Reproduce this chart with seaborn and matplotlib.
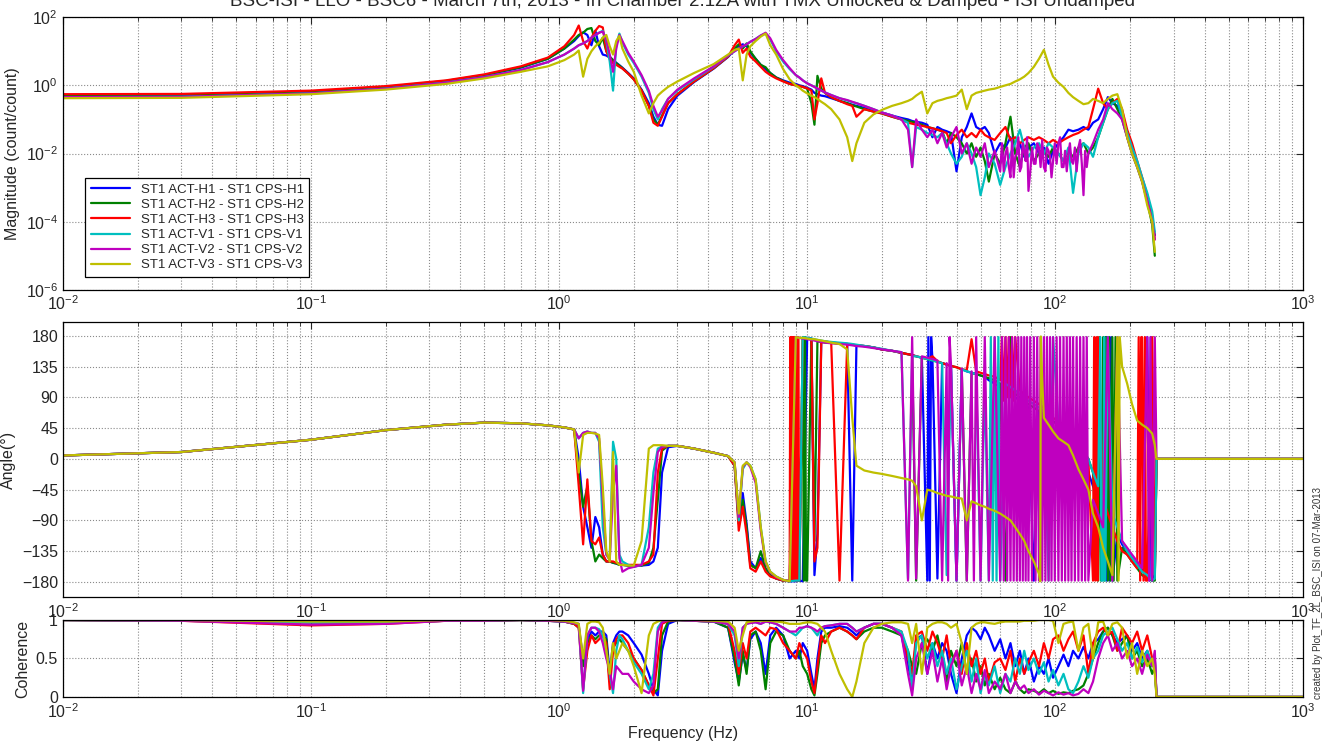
import matplotlib
matplotlib.use("Agg")
import numpy as np
import pandas as pd
import matplotlib.pyplot as plt
import seaborn as sns
from matplotlib.ticker import LogLocator, NullFormatter, NullLocator, FixedLocator

TITLE = "BSC-ISI - LLO - BSC6 - March 7th, 2013 - In Chamber 2.1ZA with TMX Unlocked & Damped - ISI Undamped"
CREDIT = "created by Plot_TF_2L_BSC_ISI on 07-Mar-2013"

LABELS = ["ST1 ACT-H1 - ST1 CPS-H1", "ST1 ACT-H2 - ST1 CPS-H2", "ST1 ACT-H3 - ST1 CPS-H3",
          "ST1 ACT-V1 - ST1 CPS-V1", "ST1 ACT-V2 - ST1 CPS-V2", "ST1 ACT-V3 - ST1 CPS-V3"]
COLORS = ["#0000ff", "#008000", "#ff0000", "#00bfbf", "#bf00bf", "#bfbf00"]

# frequency grids (Hz)
F_LOW = [0.01, 0.03, 0.1, 0.2, 0.35, 0.5, 0.7, 0.9, 1.05, 1.15, 1.2, 1.25, 1.3, 1.35, 1.4, 1.45,
         1.5, 1.55, 1.6, 1.65, 1.7, 1.75, 1.8, 1.9, 2.0, 2.15, 2.3, 2.4, 2.5, 2.6, 2.75, 3.0, 3.5,
         4.2, 4.8, 5.1, 5.3, 5.5, 5.7, 5.9, 6.2, 6.5, 6.8, 7.1, 7.5, 8.0, 8.5]
F_HIGH = [9.0, 9.3, 9.6, 10.0, 10.4, 10.7, 11.0, 11.4, 11.8, 12.5, 13.5, 14.5, 15.2, 15.8, 17, 18.5,
          20, 22, 24, 25.5, 26.5, 27.5, 29, 30.5, 32, 33.5, 35, 36.5, 38, 40, 42, 44, 46, 48, 50,
          52, 54, 57, 60, 63, 66, 69, 72, 75, 78, 82, 86, 90, 94, 98, 103, 108, 113, 118, 124, 130,
          136, 142, 149, 156, 163, 170, 178, 186, 195, 204, 214, 224, 235, 246, 252]
F_TAIL = [256, 1000]
TAIL_PHASE = [0, 0]
TAIL_COH = [0, 0]

# magnitude (count/count)
H1_MAG = [0.5, 0.51, 0.64, 0.88, 1.3, 1.95, 3.3, 6, 12, 20, 28, 36, 30, 15, 40, 14, 8, 7.5, 6.5, 5.5,
          4.6, 3.9, 3.3, 2.3, 1.6, 0.75, 0.3, 0.12, 0.07, 0.065, 0.2, 0.5, 1.25, 3.1, 6.8, 11, 14, 16,
          14, 9, 6, 4, 3, 2.3, 1.7, 1.4, 1.2,
          1.1, 1.0, 0.95, 0.85, 0.75, 0.6, 0.55, 0.5, 0.48, 0.42, 0.35, 0.3, 0.27, 0.25, 0.22, 0.19,
          0.16, 0.13, 0.11, 0.1, 0.09, 0.085, 0.08, 0.07, 0.03, 0.06, 0.05, 0.045, 0.04, 0.003, 0.03,
          0.06, 0.15, 0.06, 0.05, 0.06, 0.04, 0.01, 0.02, 0.015, 0.03, 0.01, 0.02, 0.008, 0.015, 0.02,
          0.01, 0.015, 0.005, 0.012, 0.02, 0.03, 0.05, 0.045, 0.05, 0.06, 0.05, 0.08, 0.1, 0.2, 0.45,
          0.3, 0.25, 0.15, 0.04, 0.015, 0.005, 0.0018, 5e-4, 1.2e-4, 4e-5]
H2_MAG = [0.52, 0.53, 0.66, 0.9, 1.35, 2.0, 3.4, 6, 12, 22, 30, 35, 45, 48, 20, 15, 25, 10, 7, 5.5,
          4.5, 3.8, 3.2, 2.2, 1.5, 0.7, 0.25, 0.1, 0.07, 0.13, 0.3, 0.55, 1.3, 3.2, 7, 12, 16, 12, 17,
          10, 6, 4, 3.4, 2.3, 1.7, 1.35, 1.1,
          1.0, 0.95, 0.9, 0.8, 0.3, 0.07, 1.9, 0.8, 0.6, 0.45, 0.35, 0.3, 0.26, 0.24, 0.2, 0.17, 0.15,
          0.12, 0.1, 0.09, 0.085, 0.08, 0.07, 0.06, 0.055, 0.05, 0.045, 0.02, 0.04, 0.03, 0.02, 0.01,
          0.02, 0.008, 0.015, 0.006, 0.0015, 0.01, 0.005, 0.02, 0.12, 0.01, 0.004, 0.015, 0.02, 0.006,
          0.01, 0.012, 0.008, 0.015, 0.01, 0.006, 0.012, 0.008, 0.015, 0.02, 0.01, 0.015, 0.03, 0.08,
          0.2, 0.4, 0.2, 0.1, 0.03, 0.01, 0.004, 0.0015, 4e-4, 8e-5, 1e-5]
H3_MAG = [0.55, 0.56, 0.7, 0.95, 1.4, 2.1, 3.6, 6.5, 14, 30, 57, 20, 12, 25, 40, 55, 50, 10, 6, 4.5,
          4, 3.5, 3.1, 2.2, 1.5, 0.7, 0.25, 0.08, 0.065, 0.12, 0.3, 0.55, 1.3, 3.2, 7, 15, 22, 9, 12,
          7, 5, 3.5, 2.5, 2.0, 1.6, 1.3, 1.1,
          1.0, 0.95, 0.9, 0.82, 0.7, 0.1, 0.3, 1.6, 0.6, 0.45, 0.35, 0.28, 0.25, 0.12, 0.2, 0.17, 0.15,
          0.12, 0.1, 0.08, 0.075, 0.07, 0.065, 0.06, 0.055, 0.05, 0.045, 0.04, 0.02, 0.035, 0.05, 0.03,
          0.04, 0.03, 0.05, 0.035, 0.03, 0.025, 0.04, 0.06, 0.025, 0.03, 0.02, 0.025, 0.03, 0.025,
          0.03, 0.025, 0.02, 0.025, 0.02, 0.025, 0.03, 0.035, 0.04, 0.05, 0.06, 0.2, 0.8, 0.3, 0.2,
          0.3, 0.4, 0.2, 0.05, 0.02, 0.006, 0.002, 6e-4, 1.5e-4, 3e-5]
V1_MAG = [0.45, 0.46, 0.58, 0.8, 1.2, 1.75, 2.8, 4.8, 8, 12, 15, 17, 20, 25, 30, 35, 40, 20, 5, 0.7,
          15, 33, 18, 8, 4.5, 1.8, 0.6, 0.2, 0.1, 0.2, 0.4, 0.7, 1.5, 3.5, 7.5, 10, 12, 14, 16, 19, 23,
          29, 33, 22, 10, 5, 3,
          2.0, 1.7, 1.4, 1.15, 1.0, 0.9, 0.8, 0.7, 0.62, 0.52, 0.42, 0.36, 0.32, 0.3, 0.25, 0.2, 0.16,
          0.13, 0.1, 0.08, 0.004, 0.06, 0.05, 0.04, 0.035, 0.03, 0.04, 0.02, 0.01, 0.005, 0.008, 0.02,
          0.01, 0.004, 0.0006, 0.002, 0.01, 0.005, 0.0012, 0.004, 0.01, 0.02, 0.05, 0.015, 0.008,
          0.015, 0.02, 0.01, 0.02, 0.015, 0.01, 0.006, 0.015, 0.0007, 0.01, 0.02, 0.015, 0.008, 0.03,
          0.08, 0.2, 0.3, 0.35, 0.12, 0.04, 0.015, 0.006, 0.002, 7e-4, 2e-4, 5e-5]
V2_MAG = [0.45, 0.46, 0.58, 0.8, 1.2, 1.75, 2.8, 4.8, 8, 12, 15, 17, 20, 25, 30, 35, 38, 22, 8, 2.5,
          12, 30, 20, 9, 5, 2, 0.7, 0.25, 0.12, 0.18, 0.4, 0.75, 1.6, 3.6, 7.5, 10, 12, 14, 16, 19, 23,
          29, 35, 24, 11, 5.5, 3.2,
          2.0, 1.7, 1.4, 1.15, 1.0, 0.9, 0.8, 0.7, 0.62, 0.52, 0.42, 0.37, 0.33, 0.3, 0.25, 0.2, 0.16,
          0.13, 0.1, 0.05, 0.004, 0.1, 0.05, 0.03, 0.05, 0.02, 0.04, 0.015, 0.03, 0.06, 0.01, 0.02,
          0.005, 0.015, 0.008, 0.02, 0.004, 0.012, 0.003, 0.01, 0.002, 0.008, 0.003, 0.012, 0.0008,
          0.005, 0.015, 0.004, 0.012, 0.006, 0.02, 0.004, 0.01, 0.005, 0.015, 0.0006, 0.01, 0.02,
          0.05, 0.1, 0.3, 0.2, 0.15, 0.1, 0.03, 0.01, 0.004, 0.0015, 4e-4, 1e-4, 3e-5]
V3_MAG = [0.42, 0.43, 0.55, 0.75, 1.1, 1.6, 2.5, 3.6, 5.5, 8, 10.5, 1.8, 6, 10, 14, 18, 25, 30, 14, 8,
          20, 28, 12, 5, 2.5, 0.5, 0.15, 0.3, 0.5, 0.65, 0.9, 1.3, 2.3, 4.2, 8, 11, 12, 1.4, 8, 14, 20,
          27, 33, 15, 8, 3, 1.5,
          1.0, 0.85, 0.7, 0.58, 0.5, 0.45, 0.4, 0.33, 0.28, 0.2, 0.1, 0.03, 0.006, 0.02, 0.08, 0.14,
          0.19, 0.25, 0.3, 0.35, 0.4, 0.5, 0.65, 0.15, 0.3, 0.35, 0.38, 0.42, 0.45, 0.5, 0.75, 0.2,
          0.5, 0.6, 0.65, 0.7, 0.75, 0.8, 0.9, 1.0, 1.1, 1.3, 1.5, 1.8, 2.3, 3.5, 6.0, 11.0, 4.0, 1.8,
          1.2, 0.9, 0.6, 0.45, 0.35, 0.28, 0.3, 0.4, 0.35, 0.3, 0.4, 0.5, 0.55, 0.2, 0.03, 0.01,
          0.004, 0.0015, 3e-4, 1e-4, 1.3e-5]

# phase (deg)
H1_PH = [5, 10, 28, 42, 50, 53, 52, 49, 46, 43,
         0, -70, -100, -130, -85, -100, -140, -150, -150, -152, -153, -155, -155, -156, -156, -156,
         -155, -150, -130, -20, 17, 19, 15, 9, 4, -8, -90, -50, -95, -150, -160, -145, -162, -170,
         -175, -178, -179,
         -179, -178, -179, 177, 176, -170, -110, 172, 171, 170, 169, 168, -178, 166, 165, 163, 160,
         158, 155, 153, 152, 150, 148, -178, 145, -175, 140, 138, 136, -178, 131, 128, 126, 124, 122,
         120, 115, 110, 105, 100, 95, 90, 85, 80, 75, -178, 70, 65, 60, 55, 50, 40, 30, 20, 10, 0,
         -20, -40, -60, -80, 178, -178, -110, -125, -135, -145, -155, -165, 178, -178, -170]
H2_PH = [5, 10, 28, 42, 50, 53, 52, 49, 46, 43,
         -20, -70, -40, -120, -150, -140, -145, -150, -150, -152, -153, -155, -155, -156, -156, -156,
         -152, -130, -60, 12, 19, 19, 15, 9, 4, -10, -95, -60, -100, -155, -160, -135, -160, -170,
         -175, -178, -179,
         178, -178, 178, -178, 175, -120, 172, 171, 170, 170, 169, 168, 167, 166, 165, 163, 160, 158,
         155, 153, 152, -178, 148, 146, 144, 142, 140, 138, 136, 134, 131, -178, 126, 124, 122, 120,
         118, 115, 110, -178, 178, 95, 90, 85, 80, 75, 70, 65, 60, 55, 50, 45, 40, 30, 20, 10, 0,
         -20, -178, 178, -178, 178, -178, -130, -140, -150, -160, -170, -175, -178, -178]
H3_PH = [5, 10, 28, 42, 50, 53, 52, 49, 46, 43,
         -40, -125, -30, -120, -125, -115, -140, -150, -150, -150, -152, -153, -155, -155, -155,
         -155, -150, -140, -20, 15, 19, 19, 15, 9, 4, -10, -105, -70, -110, -160, -165, -150, -165,
         -172, -175, -178, -178,
         178, -178, 177, 176, 175, -150, -130, 170, 172, 170, -178, 168, 167, 166, 165, 163, 160, 158,
         155, 153, 152, 150, 148, 146, 150, 143, 140, 138, 136, 134, 131, 130, 175, 128, 126, 124,
         122, 120, 115, 178, 90, 178, 100, 95, 90, 85, 80, 75, 70, 60, 55, 50, 40, 30, 20, 10, 0,
         -178, 178, -60, -80, -100, -120, -135, -140, -150, -160, 178, -178, 178, -170]
V1_PH = [5, 10, 28, 42, 50, 53, 52, 49, 46, 43,
         30, 38, 40, 38, 38, 25, -100, -140, -145, 25, 0, -140, -150, -155, -158, -155, -100, -20,
         15, 18, 19, 19, 15, 9, 4, -5, -90, -15, -5, -10, -30, -100, -150, -165, -172, -177, -179,
         -178, -178, 178, 177, 176, 175, 174, 173, 172, 171, 170, 169, 168, 167, 165, 163, 161, 158,
         156, -175, 150, 150, 148, 146, 144, 142, 140, -170, 136, -178, 131, 128, 126, 124, -178, 120,
         -178, 178, -178, 110, 105, 100, 95, 90, 85, 80, 75, 70, -178, 178, 50, 45, 40, 30, 20, 10, 0,
         -20, -40, -178, 178, -80, -100, -120, -135, -145, -155, -165, -170, -178, -175]
V2_PH = [5, 10, 28, 42, 50, 53, 52, 49, 46, 43,
         30, 38, 40, 38, 38, 30, -60, -140, -148, -50, -10, -145, -165, -160, -158, -155, -130, -50,
         10, 18, 19, 19, 15, 9, 4, -5, -85, -12, -5, -12, -35, -105, -152, -166, -173, -177, -179,
         178, 177, 176, 175, 174, 173, 172, 171, 170, 169, 168, 167, 166, 165, 164, 162, 160, 158,
         156, -178, 178, -175, 150, 148, 146, 144, -178, 140, 138, -178, 132, -178, 128, 178, -178,
         178, -178, 178, -178, 178, -178, 178, -178, 178, -178, 178, -178, 178, -178, 178, -178, 178,
         -178, 178, -178, 178, -178, -60, -80, -100, 178, -178, 178, -120, -130, -140, -150, -160,
         178, -178, 178]
V3_PH = [5, 10, 28, 42, 50, 53, 52, 49, 46, 43,
         -20, 35, 38, 38, 37, 35, -40, -135, -150, 10, -150, -155, -155, -156, -156, -120, 15, 20,
         20, 20, 19, 19, 15, 9, 4, -5, -80, -10, -5, -10, -30, -100, -150, -165, -172, -177, -179,
         178, 177, 177, 176, 175, 175, 174, 173, 172, 170, 168, 160, 60, -10, -17, -20, -22, -25, -28,
         -30, -32, -40, -90, -45, -47, -50, -52, -54, -55, -57, -58, -90, -62, -65, -68, -70, -73,
         -76, -80, -85, -90, -100, -110, -120, -135, -150, -168, 60, 50, 40, 30, 25, 20, 5, -15, -30,
         -45, -80, -100, -130, -150, -170, 178, 135, 110, 80, 56, 50, 45, 37, 20]

# extra phase-wrap readings in the busy bands (Hz, deg)
H1_WRAP_F = [30.8, 31.2, 31.6, 160, 161.5, 166, 168, 240, 243]
H1_WRAP = [178, -178, 178, 178, -178, -178, 178, -178, 178]
H2_WRAP_F = [9.7, 9.8, 9.9, 151, 153, 158, 160, 165, 167, 172, 175]
H2_WRAP = [-178, 178, -178, 178, -178, -178, 178, 178, -178, -178, 178]
H3_WRAP_F = [8.55, 8.6, 8.65, 8.7, 8.75, 8.8, 8.85, 8.9, 9.05, 9.1, 9.15, 9.2, 61, 62, 64, 65, 67,
             68, 143.5, 145, 146.5, 148, 217, 220, 222, 227, 230, 232]
H3_WRAP = [178, -178, 178, -178, 178, -178, 178, -178, -178, 178, -178, 178, 178, 85, 90, 178, 178,
           85, 178, -178, 178, -178, 178, -178, 178, -178, 178, -178]
V1_WRAP_F = [55, 56, 58, 59, 152, 153.5, 157.5, 159]
V1_WRAP = [178, -178, -178, 178, 178, -178, 178, -178]
V2_WRAP_F = [37, 37.5, 47, 239, 242,
             61, 62, 64, 65, 67, 68, 70, 71, 73, 74, 76, 77, 79.3, 80.6, 83.3, 84.6, 87.3, 88.6, 91.3,
             92.6, 95.3, 96.6, 99.6, 101.3, 104.6, 106.3, 109.6, 111.3, 114.6, 116.3, 120, 122, 126,
             128, 132, 134]
V2_WRAP = [-178, 178, -178, -178, 178,
           178, -178, -178, 178, 178, -178, -178, 178, 178, -178, -178, 178, 178, -178, -178, 178,
           178, -178, -178, 178, 178, -178, -178, 178, 178, -178, -178, 178, 178, -178, -178, 178,
           178, -178, -178, 178]
V3_WRAP_F = [87, 87.5, 88.5, 180, 182]
V3_WRAP = [-179, 179, 120, -178, 178]

# extra magnitude readings where V2 is very ragged (Hz, count/count)
V2_RAGGED_F = [61, 62, 64, 65, 67, 68, 70, 71, 73, 74, 76, 77, 79.3, 80.6, 83.3, 84.6, 87.3, 88.6,
               91.3, 92.6, 95.3, 96.6, 99.6, 101.3, 104.6, 106.3, 109.6, 111.3, 114.6, 116.3, 120,
               122, 126, 128, 132, 134]
V2_RAGGED = [0.02, 0.003, 0.015, 0.004, 0.025, 0.002, 0.01, 0.03, 0.004, 0.02, 0.006, 0.03, 0.003,
             0.015, 0.005, 0.02, 0.004, 0.025, 0.003, 0.015, 0.008, 0.002, 0.02, 0.005, 0.03, 0.004,
             0.012, 0.003, 0.02, 0.006, 0.015, 0.003, 0.025, 0.005, 0.012, 0.004]

# coherence
H1_COH = [1.0, 0.99, 0.97, 0.97, 0.99, 0.99, 1.0, 0.99, 0.98, 0.95,
          0.92, 0.5, 0.75, 0.85, 0.8, 0.85, 0.85, 0.8, 0.3, 0.7, 0.8, 0.85, 0.85, 0.8, 0.7, 0.55,
          0.3, 0.1, 0.02, 0.6, 0.95, 1.0, 0.99, 0.98, 0.9, 0.45, 0.2, 0.55, 0.35, 0.75, 0.85, 0.7,
          0.3, 0.8, 0.9, 0.8, 0.5,
          0.6, 0.5, 0.7, 0.6, 0.3, 0.1, 0.5, 0.85, 0.9, 0.9, 0.92, 0.9, 0.85, 0.8, 0.9, 0.95, 0.95,
          0.9, 0.8, 0.4, 0.2, 0.75, 0.8, 0.3, 0.7, 0.5, 0.7, 0.6, 0.3, 0.05, 0.5, 0.8, 0.9, 0.85,
          0.75, 0.9, 0.8, 0.6, 0.75, 0.5, 0.7, 0.4, 0.6, 0.3, 0.5, 0.2, 0.4, 0.3, 0.5, 0.25, 0.4,
          0.55, 0.4, 0.6, 0.5, 0.65, 0.5, 0.7, 0.75, 0.85, 0.9, 0.8, 0.7, 0.75, 0.8, 0.6, 0.7, 0.5,
          0.6, 0.4, 0.5]
H2_COH = [1.0, 0.99, 0.97, 0.97, 0.99, 0.99, 1.0, 0.99, 0.98, 0.95,
          0.9, 0.4, 0.7, 0.8, 0.75, 0.8, 0.8, 0.75, 0.2, 0.65, 0.7, 0.75, 0.7, 0.6, 0.5, 0.35, 0.15,
          0.05, 0.1, 0.8, 0.98, 1.0, 0.99, 0.98, 0.9, 0.5, 0.15, 0.6, 0.3, 0.8, 0.85, 0.6, 0.1, 0.7,
          0.85, 0.8, 0.6,
          0.5, 0.6, 0.4, 0.3, 0.1, 0.02, 0.3, 0.7, 0.8, 0.85, 0.9, 0.85, 0.8, 0.75, 0.85, 0.9, 0.9,
          0.85, 0.8, 0.6, 0.4, 0.3, 0.7, 0.75, 0.6, 0.8, 0.5, 0.2, 0.6, 0.4, 0.7, 0.3, 0.5, 0.2, 0.4,
          0.15, 0.3, 0.1, 0.25, 0.1, 0.05, 0.2, 0.1, 0.05, 0.1, 0.08, 0.05, 0.1, 0.05, 0.08, 0.04,
          0.06, 0.05, 0.08, 0.1, 0.15, 0.3, 0.5, 0.7, 0.85, 0.9, 0.8, 0.6, 0.7, 0.8, 0.5, 0.6, 0.4,
          0.5, 0.3, 0.4]
H3_COH = [1.0, 0.99, 0.93, 0.95, 0.99, 0.99, 1.0, 0.99, 0.98, 0.95,
          0.9, 0.1, 0.6, 0.8, 0.7, 0.75, 0.8, 0.7, 0.1, 0.6, 0.75, 0.8, 0.8, 0.7, 0.5, 0.35, 0.15,
          0.02, 0.5, 0.95, 0.99, 1.0, 0.99, 0.98, 0.95, 0.6, 0.3, 0.7, 0.5, 0.85, 0.9, 0.85, 0.8,
          0.9, 0.88, 0.7, 0.6,
          0.5, 0.7, 0.6, 0.5, 0.2, 0.05, 0.4, 0.8, 0.7, 0.85, 0.9, 0.85, 0.8, 0.75, 0.9, 0.95, 0.95,
          0.9, 0.85, 0.5, 0.3, 0.8, 0.85, 0.6, 0.85, 0.7, 0.5, 0.8, 0.4, 0.6, 0.3, 0.7, 0.4, 0.6, 0.3,
          0.5, 0.2, 0.45, 0.5, 0.35, 0.6, 0.2, 0.5, 0.3, 0.45, 0.6, 0.4, 0.7, 0.5, 0.75, 0.8, 0.6,
          0.75, 0.85, 0.6, 0.8, 0.3, 0.7, 0.85, 0.9, 0.8, 0.85, 0.6, 0.9, 0.8, 0.7, 0.85, 0.6, 0.8,
          0.5, 0.5]
V1_COH = [1.0, 0.99, 0.97, 0.97, 0.99, 0.99, 1.0, 0.99, 0.98, 0.96,
          0.95, 0.05, 0.8, 0.9, 0.9, 0.88, 0.8, 0.6, 0.3, 0.05, 0.6, 0.8, 0.75, 0.6, 0.45, 0.3, 0.1,
          0.3, 0.9, 0.98, 1.0, 1.0, 0.99, 0.98, 0.95, 0.8, 0.4, 0.9, 0.95, 0.97, 0.97, 0.95, 0.98,
          0.97, 0.95, 0.9, 0.85,
          0.8, 0.85, 0.9, 0.92, 0.9, 0.85, 0.8, 0.9, 0.92, 0.93, 0.95, 0.95, 0.9, 0.85, 0.9, 0.95,
          0.95, 0.9, 0.85, 0.6, 0.1, 0.7, 0.8, 0.5, 0.7, 0.4, 0.6, 0.3, 0.5, 0.1, 0.4, 0.6, 0.2, 0.5,
          0.05, 0.3, 0.15, 0.4, 0.05, 0.3, 0.2, 0.5, 0.3, 0.6, 0.35, 0.5, 0.3, 0.45, 0.2, 0.35, 0.15,
          0.3, 0.1, 0.05, 0.2, 0.4, 0.25, 0.5, 0.6, 0.8, 0.85, 0.9, 0.75, 0.6, 0.7, 0.5, 0.65, 0.45,
          0.6, 0.4, 0.5]
V2_COH = [1.0, 0.99, 0.94, 0.95, 0.99, 0.99, 1.0, 0.99, 0.98, 0.96,
          0.95, 0.08, 0.8, 0.9, 0.9, 0.85, 0.7, 0.5, 0.35, 0.1, 0.4, 0.35, 0.3, 0.3, 0.2, 0.1, 0.05,
          0.15, 0.85, 0.97, 1.0, 1.0, 0.99, 0.98, 0.95, 0.85, 0.5, 0.9, 0.95, 0.96, 0.97, 0.95, 0.98,
          0.97, 0.95, 0.9, 0.85,
          0.85, 0.9, 0.9, 0.92, 0.9, 0.88, 0.85, 0.9, 0.92, 0.93, 0.95, 0.95, 0.9, 0.85, 0.9, 0.95,
          0.95, 0.9, 0.8, 0.3, 0.02, 0.5, 0.7, 0.3, 0.6, 0.2, 0.5, 0.1, 0.4, 0.6, 0.15, 0.4, 0.05,
          0.3, 0.1, 0.35, 0.05, 0.2, 0.1, 0.3, 0.05, 0.2, 0.1, 0.15, 0.05, 0.1, 0.03, 0.08, 0.05,
          0.02, 0.06, 0.03, 0.05, 0.02, 0.04, 0.1, 0.05, 0.2, 0.5, 0.7, 0.8, 0.6, 0.7, 0.5, 0.6, 0.4,
          0.5, 0.3, 0.55, 0.4, 0.6]
V3_COH = [1.0, 1.0, 0.98, 0.98, 1.0, 1.0, 1.0, 1.0, 0.99, 0.97,
          0.95, 0.5, 0.95, 0.98, 0.98, 0.97, 0.9, 0.6, 0.3, 0.7, 0.5, 0.6, 0.7, 0.6, 0.4, 0.05, 0.8,
          0.95, 0.98, 1.0, 1.0, 1.0, 1.0, 0.99, 0.98, 0.9, 0.6, 0.8, 0.97, 0.98, 0.99, 0.99, 0.99,
          0.99, 0.98, 0.97, 0.95,
          0.95, 0.95, 0.96, 0.97, 0.97, 0.96, 0.95, 0.9, 0.85, 0.6, 0.3, 0.1, 0.0, 0.2, 0.7, 0.9,
          0.95, 0.97, 0.97, 0.95, 0.7, 0.95, 0.3, 0.9, 0.95, 0.97, 0.97, 0.95, 0.9, 0.95, 0.7, 0.3,
          0.9, 0.95, 0.97, 0.97, 0.96, 0.95, 0.97, 0.98, 0.98, 0.98, 0.98, 0.99, 0.99, 0.99, 1.0,
          1.0, 1.0, 0.99, 0.7, 0.95, 0.97, 0.98, 0.6, 0.9, 0.95, 0.5, 0.97, 0.98, 0.8, 0.95, 0.97,
          0.9, 0.5, 0.7, 0.3, 0.6, 0.4, 0.5, 0.3]


def series_frame(freqs, values, label, extra_f=(), extra_v=()):
    df = pd.DataFrame({"freq": list(freqs) + list(extra_f),
                       "value": list(values) + list(extra_v)})
    df = df.sort_values("freq", kind="stable")
    df["series"] = label
    return df


def build_frames():
    mags = [H1_MAG, H2_MAG, H3_MAG, V1_MAG, V2_MAG, V3_MAG]
    phases = [H1_PH, H2_PH, H3_PH, V1_PH, V2_PH, V3_PH]
    cohs = [H1_COH, H2_COH, H3_COH, V1_COH, V2_COH, V3_COH]
    wraps = [(H1_WRAP_F, H1_WRAP), (H2_WRAP_F, H2_WRAP), (H3_WRAP_F, H3_WRAP),
             (V1_WRAP_F, V1_WRAP), (V2_WRAP_F, V2_WRAP), (V3_WRAP_F, V3_WRAP)]
    ragged = {LABELS[4]: (V2_RAGGED_F, V2_RAGGED)}
    f_meas = F_LOW + F_HIGH
    f_full = f_meas + F_TAIL
    mag_parts, ph_parts, coh_parts = [], [], []
    for label, m, p, c, w in zip(LABELS, mags, phases, cohs, wraps):
        rf, rv = ragged.get(label, ((), ()))
        mag_parts.append(series_frame(f_meas, m, label, rf, rv))
        ph_parts.append(series_frame(f_full, p + TAIL_PHASE, label, w[0], w[1]))
        coh_parts.append(series_frame(f_full, c + TAIL_COH, label))
    return pd.concat(mag_parts), pd.concat(ph_parts), pd.concat(coh_parts)


def style_axis(ax):
    ax.set_xscale("log")
    ax.set_xlim(1e-2, 1e3)
    ax.xaxis.set_major_locator(LogLocator(base=10, numticks=12))
    ax.xaxis.set_minor_locator(LogLocator(base=10, subs=np.arange(2, 10), numticks=12))
    ax.xaxis.set_minor_formatter(NullFormatter())
    ax.grid(True, which="major", linestyle=":", color="#8a8a8a", linewidth=0.8)
    ax.grid(True, which="minor", axis="x", linestyle=":", color="#8a8a8a", linewidth=0.8)
    ax.tick_params(which="both", direction="in", top=True, right=True, labelsize=11.5)
    ax.tick_params(which="major", length=5)
    ax.tick_params(which="minor", length=3)
    for s in ax.spines.values():
        s.set_visible(True)
        s.set_color("black")
        s.set_linewidth(0.9)
    ax.set_xlabel("")


def plot_all():
    sns.set_style("white")
    plt.rcParams["font.family"] = ["Liberation Sans", "DejaVu Sans"]
    plt.rcParams["mathtext.default"] = "regular"

    df_mag, df_ph, df_coh = build_frames()
    palette = dict(zip(LABELS, COLORS))

    fig = plt.figure(figsize=(13.28, 7.47), dpi=100)
    ax_mag = fig.add_axes([0.0474, 0.612, 0.934, 0.365])
    ax_ph = fig.add_axes([0.0474, 0.2008, 0.934, 0.368])
    ax_coh = fig.add_axes([0.0474, 0.067, 0.934, 0.103])

    kw = dict(x="freq", y="value", hue="series", palette=palette, estimator=None,
              sort=False, linewidth=1.6)
    sns.lineplot(data=df_mag, ax=ax_mag, legend=True, **kw)
    sns.lineplot(data=df_ph, ax=ax_ph, legend=False, **kw)
    sns.lineplot(data=df_coh, ax=ax_coh, legend=False, **kw)

    # magnitude
    ax_mag.set_yscale("log")
    style_axis(ax_mag)
    ax_mag.set_ylim(1e-6, 1e2)
    ax_mag.yaxis.set_major_locator(FixedLocator([1e-6, 1e-4, 1e-2, 1e0, 1e2]))
    ax_mag.yaxis.set_minor_locator(NullLocator())
    ax_mag.set_ylabel("Magnitude (count/count)", fontsize=11.5)

    # phase
    style_axis(ax_ph)
    ax_ph.set_ylim(-202, 200)
    ax_ph.set_yticks([-180, -135, -90, -45, 0, 45, 90, 135, 180])
    ax_ph.set_ylabel("Angle(°)", fontsize=11.5)

    # coherence
    style_axis(ax_coh)
    ax_coh.set_ylim(0, 1)
    ax_coh.set_yticks([0, 0.5, 1])
    ax_coh.set_yticklabels(["0", "0.5", "1"])
    ax_coh.set_ylabel("Coherence", fontsize=11.5)
    ax_coh.set_xlabel("Frequency (Hz)", fontsize=11.5)

    leg = ax_mag.legend(loc="lower left", bbox_to_anchor=(0.018, 0.048), borderaxespad=0,
                        fontsize=9.5, frameon=True, fancybox=False, edgecolor="black",
                        framealpha=1, handlelength=3.0, labelspacing=0.22, borderpad=0.4)
    leg.get_frame().set_linewidth(0.9)
    for line in leg.get_lines():
        line.set_linewidth(1.6)

    fig.text(0.514, 1 - 6 / 747, TITLE, ha="center", va="baseline", fontsize=13.5)
    fig.text(0.9925, 0.064, CREDIT, rotation=90, ha="center", va="bottom", fontsize=7,
             color="#333333")

    fig.savefig("out.png", dpi=100, facecolor="white")


if __name__ == "__main__":
    plot_all()
